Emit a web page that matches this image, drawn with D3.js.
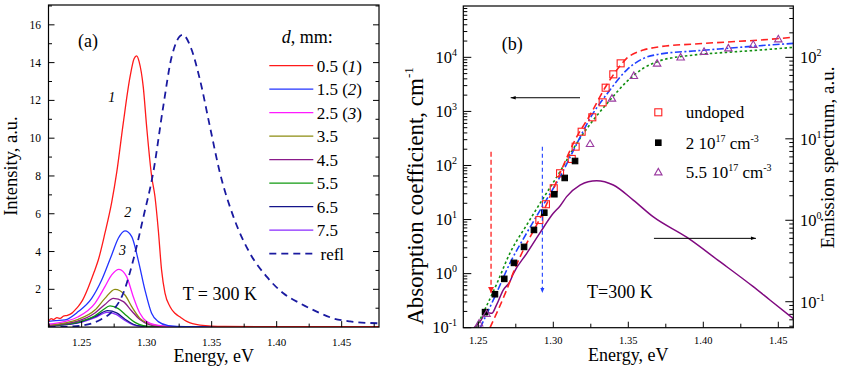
<!DOCTYPE html>
<html><head><meta charset="utf-8">
<script src="https://cdn.jsdelivr.net/npm/d3@7"></script>
<style>
body{margin:0;background:#fff}
svg{display:block}
svg text{fill:#000;white-space:pre}
</style></head><body>
<svg id="c" width="845" height="371" font-family="'Liberation Serif', 'DejaVu Serif', 'Times New Roman', serif"></svg>
<script>
// ---------- Panel (a) data: [energy eV, intensity a.u.] ----------
const thickness = ["0.5", "1.5", "2.5", "3.5", "4.5", "5.5", "6.5", "7.5"];
const curveTags = ["1", "2", "3", "", "", "", "", ""];
const colorsA = ["#ff1a1a", "#2233ff", "#ff1aff", "#8c8c10", "#8a1a8a", "#119a11", "#14148a", "#8a2aff"];
const em05 = [[1.2245,0.30],[1.2265,0.45],[1.2285,0.40],[1.231,0.50],[1.2335,0.46],[1.236,0.58],[1.239,0.62],[1.2425,0.74],[1.2455,0.95],[1.2474,1.10],[1.2505,1.40],[1.2551,2.10],[1.2595,2.90],[1.2628,3.55],[1.2679,4.97],[1.2731,6.6],[1.277,8.2],[1.282,10.8],[1.2871,13.2],[1.2903,14.2],[1.2923,14.36],[1.2942,14.05],[1.2974,12.7],[1.300,10.6],[1.3038,8.0],[1.3064,6.9],[1.309,5.1],[1.3115,3.0],[1.3141,1.8],[1.318,1.08],[1.3218,0.73],[1.326,0.52],[1.3308,0.30],[1.341,0.11],[1.36,0.04],[1.40,0.02],[1.4787,0.02]];
const em15 = [[1.2245,0.30],[1.23,0.34],[1.2372,0.38],[1.2474,0.82],[1.2577,1.52],[1.2654,2.49],[1.2731,3.82],[1.2782,4.70],[1.2833,5.09],[1.2885,4.79],[1.2935,3.55],[1.2987,1.96],[1.3038,0.73],[1.3089,0.29],[1.3166,0.08],[1.33,0.02],[1.4787,0.02]];
const em25 = [[1.2245,0.15],[1.2372,0.30],[1.2474,0.55],[1.2602,1.26],[1.2679,2.14],[1.2731,2.76],[1.2787,3.06],[1.2846,2.67],[1.2897,1.61],[1.2948,0.73],[1.300,0.29],[1.3077,0.10],[1.32,0.03],[1.4787,0.02]];
const em35 = [[1.2245,0.10],[1.2372,0.22],[1.2474,0.41],[1.2602,0.90],[1.2679,1.52],[1.2756,2.00],[1.2833,1.70],[1.2885,1.08],[1.2948,0.46],[1.3013,0.20],[1.31,0.06],[1.32,0.02],[1.4787,0.02]];
const em45 = [[1.2245,0.08],[1.2372,0.18],[1.2474,0.33],[1.2602,0.75],[1.2679,1.20],[1.2743,1.52],[1.2821,1.35],[1.2885,0.85],[1.2948,0.40],[1.3013,0.15],[1.31,0.04],[1.32,0.02],[1.4787,0.02]];
const em55 = [[1.2245,0.07],[1.2372,0.15],[1.2474,0.27],[1.2602,0.60],[1.2665,0.92],[1.2718,1.12],[1.2782,0.98],[1.2846,0.60],[1.291,0.25],[1.2974,0.08],[1.305,0.03],[1.4787,0.02]];
const em65 = [[1.2245,0.06],[1.2372,0.13],[1.2474,0.24],[1.2602,0.55],[1.270,0.87],[1.2769,0.75],[1.2833,0.42],[1.2897,0.15],[1.2962,0.05],[1.305,0.02],[1.4787,0.02]];
const em75 = [[1.2245,0.05],[1.2372,0.12],[1.2474,0.22],[1.2602,0.50],[1.2695,0.78],[1.2769,0.66],[1.2833,0.35],[1.2897,0.12],[1.2962,0.04],[1.305,0.02],[1.4787,0.02]];
const refl = [[1.2245,0.0],[1.24,0.03],[1.2516,0.10],[1.2641,0.38],[1.2743,0.90],[1.282,1.79],[1.2897,3.55],[1.2974,5.8],[1.3051,8.2],[1.3128,11.7],[1.3192,14.3],[1.3277,15.47],[1.3346,14.68],[1.341,13.09],[1.3487,10.6],[1.3564,8.15],[1.3667,5.85],[1.3795,3.9],[1.3923,2.67],[1.4051,1.79],[1.4179,1.26],[1.4308,0.82],[1.4436,0.46],[1.4564,0.30],[1.4787,0.20]];
const emSeries = [em05, em15, em25, em35, em45, em55, em65, em75];
const xTicksA = [1.25, 1.30, 1.35, 1.40, 1.45];
const yTicksA = [2, 4, 6, 8, 10, 12, 14, 16];

// ---------- Panel (b) data ----------
const undopedE = [1.2907,1.2951,1.3003,1.3045,1.3123,1.3149,1.3189,1.326,1.3329,1.3349,1.340,1.3449];
const undopedA = [9.8,19.2,37.9,71.8,132,223,421,778,1472,2746,4850,7745];
const dop2E = [1.2545,1.2611,1.2673,1.2738,1.2805,1.2871,1.294,1.3007,1.3076,1.3145];
const dop2A = [0.194,0.416,0.80,1.58,3.12,6.43,13.4,29.4,58.8,121];
const dop55E = [1.2505,1.2555,1.3245,1.3391,1.3537,1.3692,1.3849,1.4005,1.4167,1.4333,1.450];
const dop55A = [0.12,0.18,250,1730,4550,7680,10000,12700,14700,17100,21600];
const fitUndoped = [[1.2578,0.1],[1.2689,0.5],[1.2745,1.26],[1.2811,3.15],[1.290,9.1],[1.2978,26.5],[1.3045,72],[1.3145,296],[1.3245,860],[1.3356,3080],[1.3423,5820],[1.3489,9550],[1.360,13600],[1.3711,15700],[1.3933,17600],[1.4156,19200],[1.4378,20900],[1.460,23500]];
const fitDop2 = [[1.2513,0.1],[1.262,0.43],[1.2711,1.56],[1.2822,5.6],[1.2933,18.6],[1.3045,62],[1.3156,250],[1.3245,745],[1.3378,2490],[1.3489,5820],[1.360,9550],[1.3711,11500],[1.3933,13070],[1.4156,14650],[1.4378,16400],[1.460,18100]];
const fitDop55 = [[1.2485,0.1],[1.262,0.62],[1.2711,2.4],[1.2822,7.9],[1.2933,24.8],[1.3045,77],[1.3156,257],[1.3267,693],[1.3378,1620],[1.3489,3540],[1.360,6270],[1.3711,8650],[1.3933,11000],[1.4156,12370],[1.4378,13650],[1.460,15300]];
const emission = [[1.2455,0.045],[1.2511,0.057],[1.2556,0.074],[1.2590,0.072],[1.262,0.090],[1.2667,0.140],[1.2711,0.177],[1.2733,0.22],[1.2822,0.39],[1.2911,0.70],[1.300,1.22],[1.3045,1.50],[1.3089,1.95],[1.3178,2.70],[1.3233,2.98],[1.3289,3.06],[1.340,2.71],[1.3533,1.77],[1.3667,1.10],[1.3889,0.62],[1.4111,0.31],[1.4333,0.153],[1.4444,0.105],[1.460,0.062]];
const xTicksB = [1.25, 1.30, 1.35, 1.40, 1.45];
const yTicksBL = [-1, 0, 1, 2, 3, 4];
const yTicksBR = [-1, 0, 1, 2];

const svg = d3.select("#c");
svg.append("rect").attr("width", 845).attr("height", 371).attr("fill", "#fff");
const defs = svg.append("defs");

// ================= Panel (a) =================
const xA = d3.scaleLinear().domain([1.2245, 1.4787]).range([48.5, 379]);
const yA = d3.scaleLinear().domain([0, 17.05]).range([327.1, 5]);
defs.append("clipPath").attr("id", "clipA").append("rect")
  .attr("x", xA.range()[0]).attr("y", yA.range()[1])
  .attr("width", xA.range()[1] - xA.range()[0]).attr("height", yA.range()[0] - yA.range()[1]);
const gA = svg.append("g");
const lineA = d3.line().x(d => xA(d[0])).y(d => yA(d[1])).curve(d3.curveMonotoneX);
const plotA = gA.append("g").attr("clip-path", "url(#clipA)");
for (let i = emSeries.length - 1; i >= 0; i--) {
  plotA.append("path").datum(emSeries[i]).attr("d", lineA)
    .attr("fill", "none").attr("stroke", colorsA[i]).attr("stroke-width", 1.3);
}
plotA.append("path").datum(refl).attr("d", lineA).attr("fill", "none")
  .attr("stroke", "#1a1aa0").attr("stroke-width", 1.8).attr("stroke-dasharray", "7,5");

// frame
gA.append("rect").attr("x", xA.range()[0]).attr("y", yA.range()[1])
  .attr("width", xA.range()[1] - xA.range()[0]).attr("height", yA.range()[0] - yA.range()[1])
  .attr("fill", "none").attr("stroke", "#000").attr("stroke-width", 1.2);
// y ticks
for (let v = 1; v <= 17; v++) {
  const y = yA(v), L = v % 2 === 0 ? 6 : 3.5;
  gA.append("line").attr("x1", xA.range()[0]).attr("x2", xA.range()[0] + L).attr("y1", y).attr("y2", y).attr("stroke", "#000");
  gA.append("line").attr("x1", xA.range()[1]).attr("x2", xA.range()[1] - L).attr("y1", y).attr("y2", y).attr("stroke", "#000");
}
yTicksA.forEach(v => gA.append("text").attr("x", 41).attr("y", yA(v)).attr("dy", "0.35em")
  .attr("text-anchor", "end").attr("font-size", 11.5).text(v));
// x ticks
for (let k = 0; k <= 10; k++) {
  const e = 1.225 + 0.025 * k; if (e > 1.4787) break;
  const L = k % 2 === 1 ? 6 : 3.5;
  gA.append("line").attr("x1", xA(e)).attr("x2", xA(e)).attr("y1", yA.range()[0]).attr("y2", yA.range()[0] - L).attr("stroke", "#000");
}
xTicksA.forEach(v => gA.append("text").attr("x", xA(v)).attr("y", 345.5)
  .attr("text-anchor", "middle").attr("font-size", 11).text(v.toFixed(2)));
gA.append("text").attr("x", (xA.range()[0] + xA.range()[1]) / 2).attr("y", 362)
  .attr("text-anchor", "middle").attr("font-size", 18).text("Energy, eV");
gA.append("text").attr("transform", "translate(17," + ((yA.range()[0] + yA.range()[1]) / 2) + ") rotate(-90)")
  .attr("text-anchor", "middle").attr("font-size", 18.5).text("Intensity, a.u.");
gA.append("text").attr("x", 78).attr("y", 47).attr("font-size", 18).text("(a)");
gA.append("text").attr("x", 182.7).attr("y", 300).attr("font-size", 18).text("T = 300 K");
// curve tags
const tagPos = [[1.2731, 12.2], [1.2854, 6.1], [1.2815, 4.06]];
tagPos.forEach((p, i) => gA.append("text").attr("x", xA(p[0])).attr("y", yA(p[1])).attr("dy", "0.35em")
  .attr("text-anchor", "middle").attr("font-size", 14).attr("font-style", "italic").text(curveTags[i]));
// legend
const lt = gA.append("text").attr("x", 281.7).attr("y", 43).attr("font-size", 18);
lt.append("tspan").attr("font-style", "italic").text("d");
lt.append("tspan").text(", mm:");
thickness.forEach((t, i) => {
  const y = 65.7 + i * 23.5;
  gA.append("line").attr("x1", 269.3).attr("x2", 313.3).attr("y1", y).attr("y2", y)
    .attr("stroke", colorsA[i]).attr("stroke-width", 1.3);
  const tx = gA.append("text").attr("x", 316.7).attr("y", y).attr("dy", "0.35em").attr("font-size", 17);
  tx.append("tspan").text(t);
  if (curveTags[i]) {
    tx.append("tspan").text(" (");
    tx.append("tspan").attr("font-style", "italic").text(curveTags[i]);
    tx.append("tspan").text(")");
  }
});
{
  const y = 65.7 + 8 * 23.5;
  gA.append("line").attr("x1", 269.3).attr("x2", 313.3).attr("y1", y).attr("y2", y)
    .attr("stroke", "#1a1aa0").attr("stroke-width", 1.8).attr("stroke-dasharray", "7,5");
  gA.append("text").attr("x", 320.5).attr("y", y).attr("dy", "0.35em").attr("font-size", 17).text("refl");
}

// ================= Panel (b) =================
const xB = d3.scaleLinear().domain([1.24, 1.46]).range([463.3, 793.3]);
const yBL = d3.scaleLog().domain([0.1, 8.9e4]).range([327.7, 6]);
const yBR = d3.scaleLog().domain([0.048, 427]).range([327.7, 6]);
defs.append("clipPath").attr("id", "clipB").append("rect")
  .attr("x", xB.range()[0]).attr("y", yBL.range()[1])
  .attr("width", xB.range()[1] - xB.range()[0]).attr("height", yBL.range()[0] - yBL.range()[1]);
const gB = svg.append("g");
const plotB = gB.append("g").attr("clip-path", "url(#clipB)");
const lineBL = d3.line().x(d => xB(d[0])).y(d => yBL(d[1])).curve(d3.curveMonotoneX);
const lineBR = d3.line().x(d => xB(d[0])).y(d => yBR(d[1])).curve(d3.curveMonotoneX);

plotB.append("path").datum(emission).attr("d", lineBR).attr("fill", "none")
  .attr("stroke", "#800a80").attr("stroke-width", 1.5);
plotB.append("path").datum(fitDop55).attr("d", lineBL).attr("fill", "none")
  .attr("stroke", "#129012").attr("stroke-width", 1.6).attr("stroke-dasharray", "2.5,2.5");
plotB.append("path").datum(fitDop2).attr("d", lineBL).attr("fill", "none")
  .attr("stroke", "#2040ff").attr("stroke-width", 1.6).attr("stroke-dasharray", "7,2.5,2,2.5");
plotB.append("path").datum(fitUndoped).attr("d", lineBL).attr("fill", "none")
  .attr("stroke", "#ff2020").attr("stroke-width", 1.6).attr("stroke-dasharray", "7,4");

function sq(g, x, y, s, fill, stroke) {
  g.append("rect").attr("x", x - s / 2).attr("y", y - s / 2).attr("width", s).attr("height", s)
    .attr("fill", fill).attr("stroke", stroke).attr("stroke-width", 1.1);
}
function tri(g, x, y, s, stroke) {
  const h = s * 0.87;
  g.append("path").attr("d", `M${x},${y - h * 0.6}L${x + s / 2},${y + h * 0.4}L${x - s / 2},${y + h * 0.4}Z`)
    .attr("fill", "none").attr("stroke", stroke).attr("stroke-width", 1.1);
}
undopedE.forEach((e, i) => sq(plotB, xB(e), yBL(undopedA[i]), 7, "none", "#ff2020"));
dop2E.forEach((e, i) => sq(plotB, xB(e), yBL(dop2A[i]), 5.5, "#000", "#000"));
dop55E.forEach((e, i) => tri(plotB, xB(e), yBL(dop55A[i]), 7.5, "#9a3aa0"));

// arrows
defs.append("marker").attr("id", "ahK").attr("viewBox", "0 0 10 10").attr("refX", 10).attr("refY", 5)
  .attr("markerWidth", 7).attr("markerHeight", 5).attr("orient", "auto").attr("markerUnits", "userSpaceOnUse")
  .append("path").attr("d", "M0,1.5L10,5L0,8.5Z").attr("fill", "#000");
defs.append("marker").attr("id", "ahR").attr("viewBox", "0 0 10 10").attr("refX", 10).attr("refY", 5)
  .attr("markerWidth", 8).attr("markerHeight", 6).attr("orient", "auto").attr("markerUnits", "userSpaceOnUse")
  .append("path").attr("d", "M0,0L10,5L0,10Z").attr("fill", "#ff2020");
defs.append("marker").attr("id", "ahB").attr("viewBox", "0 0 10 10").attr("refX", 10).attr("refY", 5)
  .attr("markerWidth", 8).attr("markerHeight", 5).attr("orient", "auto").attr("markerUnits", "userSpaceOnUse")
  .append("path").attr("d", "M0,1L10,5L0,9Z").attr("fill", "#2040ff");
gB.append("line").attr("x1", xB(1.3178)).attr("x2", xB(1.2716)).attr("y1", yBL(1790)).attr("y2", yBL(1790))
  .attr("stroke", "#000").attr("stroke-width", 1).attr("marker-end", "url(#ahK)");
gB.append("line").attr("x1", xB(1.3671)).attr("x2", xB(1.4351)).attr("y1", yBR(0.60)).attr("y2", yBR(0.60))
  .attr("stroke", "#000").attr("stroke-width", 1).attr("marker-end", "url(#ahK)");
gB.append("line").attr("x1", xB(1.2585)).attr("x2", xB(1.2585)).attr("y1", yBL(180)).attr("y2", yBL(0.44))
  .attr("stroke", "#ff2020").attr("stroke-width", 1.3).attr("stroke-dasharray", "5,3").attr("marker-end", "url(#ahR)");
gB.append("line").attr("x1", xB(1.2927)).attr("x2", xB(1.2927)).attr("y1", yBL(223)).attr("y2", yBL(0.44))
  .attr("stroke", "#2040ff").attr("stroke-width", 1.1).attr("stroke-dasharray", "4,3").attr("marker-end", "url(#ahB)");

// frame
gB.append("rect").attr("x", xB.range()[0]).attr("y", yBL.range()[1])
  .attr("width", xB.range()[1] - xB.range()[0]).attr("height", yBL.range()[0] - yBL.range()[1])
  .attr("fill", "none").attr("stroke", "#000").attr("stroke-width", 1.2);
// left log ticks
for (let p = -1; p <= 4; p++) {
  for (let m = 1; m <= 9; m++) {
    const v = m * Math.pow(10, p);
    if (v > yBL.domain()[1]) continue;
    const y = yBL(v), L = m === 1 ? 8 : 4;
    gB.append("line").attr("x1", xB.range()[0]).attr("x2", xB.range()[0] + L).attr("y1", y).attr("y2", y).attr("stroke", "#000");
  }
}
// right log ticks
for (let p = -2; p <= 2; p++) {
  for (let m = 1; m <= 9; m++) {
    const v = m * Math.pow(10, p);
    if (v < yBR.domain()[0] || v > yBR.domain()[1]) continue;
    const y = yBR(v), L = m === 1 ? 8 : 4;
    gB.append("line").attr("x1", xB.range()[1]).attr("x2", xB.range()[1] - L).attr("y1", y).attr("y2", y).attr("stroke", "#000");
  }
}
function powLabel(g, x, y, p, anchor) {
  const t = g.append("text").attr("x", x).attr("y", y).attr("dy", "0.35em").attr("font-size", 16.5).attr("text-anchor", anchor);
  t.append("tspan").text("10");
  t.append("tspan").attr("font-size", 10).attr("dy", -7).text(p);
}
yTicksBL.forEach(p => powLabel(gB, 457, yBL(Math.pow(10, p)), p, "end"));
yTicksBR.forEach(p => powLabel(gB, 800, yBR(Math.pow(10, p)), p, "start"));
// x ticks
for (let k = 0; k <= 9; k++) {
  const e = 1.25 + 0.025 * k; if (e > 1.46) break;
  const L = k % 2 === 0 ? 6 : 4;
  gB.append("line").attr("x1", xB(e)).attr("x2", xB(e)).attr("y1", yBL.range()[0]).attr("y2", yBL.range()[0] - L).attr("stroke", "#000");
}
xTicksB.forEach(v => gB.append("text").attr("x", xB(v)).attr("y", 344).attr("text-anchor", "middle")
  .attr("font-size", 10.5).text(v.toFixed(2)));
gB.append("text").attr("x", (xB.range()[0] + xB.range()[1]) / 2).attr("y", 361)
  .attr("text-anchor", "middle").attr("font-size", 18).text("Energy, eV");
{
  const t = gB.append("text").attr("transform", "translate(423,196) rotate(-90)")
    .attr("text-anchor", "middle").attr("font-size", 23);
  t.append("tspan").text("Absorption coefficient, cm");
  t.append("tspan").attr("font-size", 13).attr("dy", -10).text("-1");
}
gB.append("text").attr("transform", "translate(834,157.5) rotate(-90)")
  .attr("text-anchor", "middle").attr("font-size", 19).text("Emission spectrum, a.u.");
gB.append("text").attr("x", 501.7).attr("y", 50).attr("font-size", 18).text("(b)");
gB.append("text").attr("x", 587).attr("y", 298).attr("font-size", 18).text("T=300 K");
// legend b
const legB = [["undoped"], ["2 10", "17", " cm", "-3"], ["5.5 10", "17", " cm", "-3"]];
const legY = [112.3, 142.7, 172.3];
sq(gB, 658.3, legY[0], 7, "none", "#ff2020");
sq(gB, 658.3, legY[1], 5.5, "#000", "#000");
tri(gB, 658.3, legY[2], 7.5, "#9a3aa0");
legB.forEach((parts, i) => {
  const t = gB.append("text").attr("x", 685.7).attr("y", legY[i]).attr("dy", "0.35em").attr("font-size", 17);
  parts.forEach((p, j) => {
    const ts = t.append("tspan").text(p);
    if (j % 2 === 1) ts.attr("font-size", 10).attr("dy", -7);
    else if (j > 0) ts.attr("dy", 7);
  });
});
</script>
</body></html>
